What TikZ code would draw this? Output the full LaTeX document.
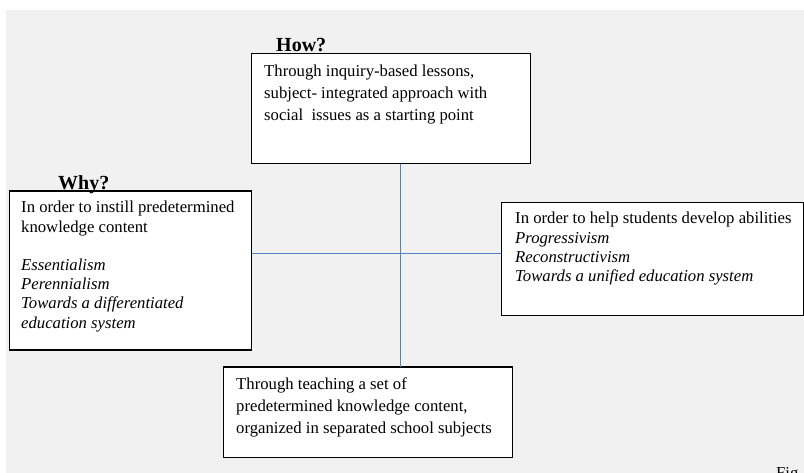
\documentclass[tikz,border=0pt]{standalone}
\usepackage{fontspec}
\setmainfont{Liberation Serif}

\definecolor{paper}{HTML}{F1F1F1}
\definecolor{linkblue}{HTML}{4F83C4}

\tikzset{
  panel/.style={draw=black, line width=1.1pt, fill=white, inner sep=0pt, anchor=north west},
  paneltext/.style={anchor=base west, align=left, inner sep=0pt, font=\fontsize{16.7}{19.2}\selectfont},
  heading/.style={anchor=base west, inner sep=0pt, font=\fontsize{20}{24}\selectfont\bfseries},
  link/.style={draw=linkblue, line width=1.3pt}
}

\begin{document}
\begin{tikzpicture}[x=1pt, y=-1pt]
          \useasboundingbox (0,0) rectangle (804,473);
          \fill[paper] (5.5,10) rectangle (804,473);
          \coordinate (axis) at (400.5,253.7);
          % the four boxes
          \node[panel, minimum width=279pt, minimum height=110pt] (inquiry) at (250.5,53) {};
          \node[panel, minimum width=242pt, minimum height=159pt] (instill) at (8.5,190.5) {};
          \node[panel, minimum width=302pt, minimum height=113pt] (abilities) at (501,202) {};
          \node[panel, minimum width=289pt, minimum height=90.5pt] (subjects) at (222.5,366.5) {};
          % cross between them
          \draw[link] (inquiry.south -| axis) -- (subjects.north -| axis);
          \draw[link] (instill.east |- axis) -- (abilities.west |- axis);
          % headings
          \node[heading] (howlabel) at ([xshift=25.5pt,yshift=1pt]inquiry.north west) {How?};
          \node[heading] (whylabel) at ([xshift=49.5pt,yshift=0.5pt]instill.north west) {Why?};
          % box texts (base = last line)
          \node[paneltext, font=\fontsize{16.7}{22}\selectfont] (inquirytext) at ([xshift=13.5pt,yshift=-68pt]inquiry.north west)
            {Through inquiry-based lessons,\\subject- integrated approach with\\social\ \ issues as a starting point};
          \node[paneltext] (instilltext) at ([xshift=12.5pt,yshift=-137.7pt]instill.north west)
            {In order to instill predetermined\\knowledge content\\[19.2pt]
             \textit{Essentialism}\\\textit{Perennialism}\\\textit{Towards a differentiated}\\\textit{education system}};
          \node[paneltext] (abilitiestext) at ([xshift=14pt,yshift=-79.6pt]abilities.north west)
            {In order to help students develop abilities\\\textit{Progressivism}\\\textit{Reconstructivism}\\\textit{Towards a unified education system}};
          \node[paneltext, font=\fontsize{16.7}{22}\selectfont] (subjectstext) at ([xshift=13.5pt,yshift=-66.5pt]subjects.north west)
            {Through teaching a set of\\predetermined knowledge content,\\organized in separated school subjects};
          \node[paneltext] (figlabel) at (776,478) {Fig};
      \end{tikzpicture}
\end{document}
